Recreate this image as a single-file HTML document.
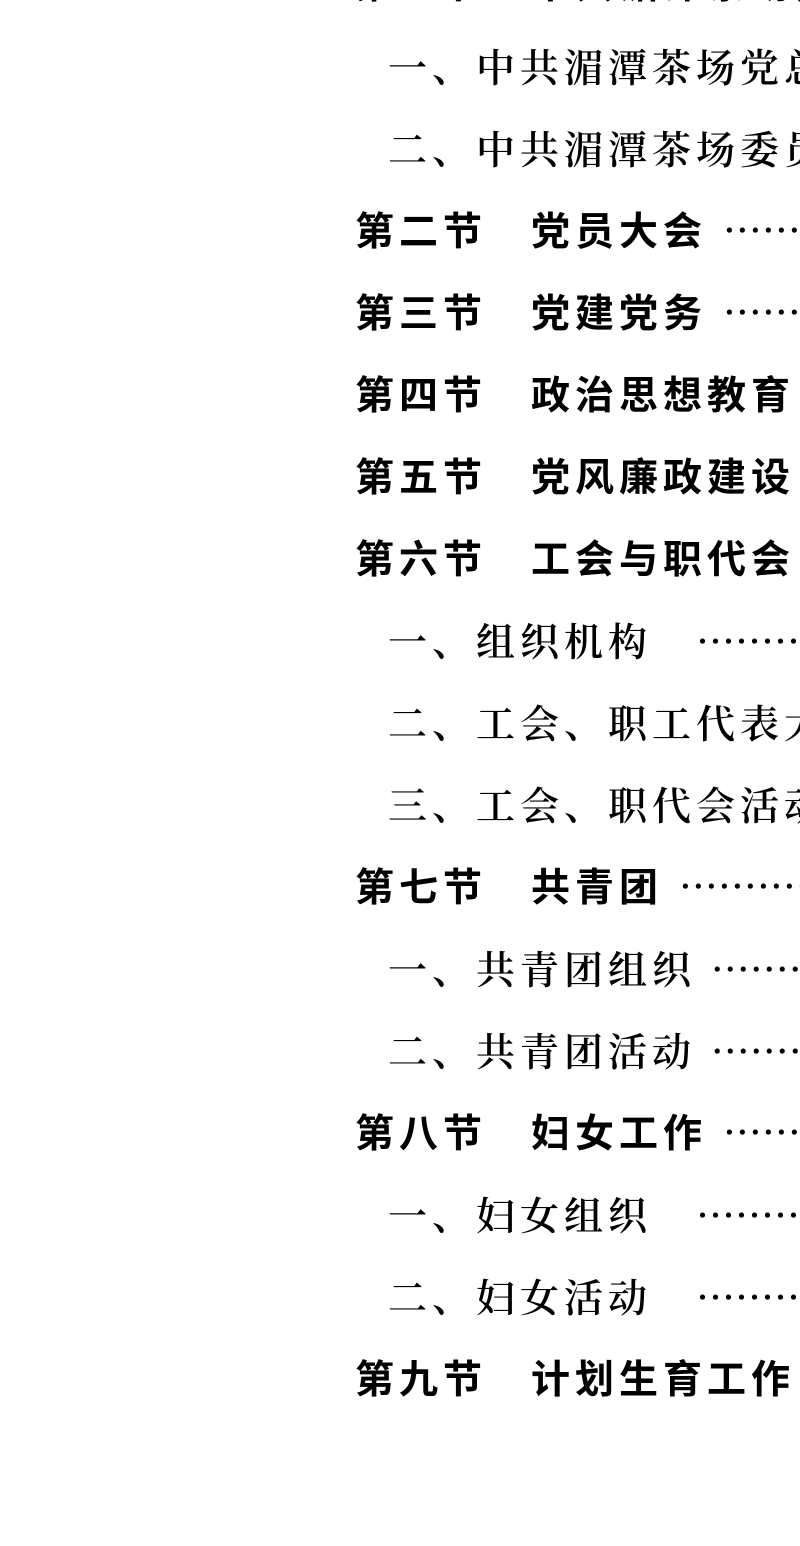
<!DOCTYPE html>
<html><head><meta charset="utf-8"><style>
html,body{margin:0;padding:0;background:#fff;overflow:hidden;}
body{width:800px;height:1546px;overflow:hidden;position:relative;}
.l{position:absolute;white-space:nowrap;line-height:44px;height:44px;font-size:39px;letter-spacing:5px;color:#000;overflow:hidden;right:0;}
.s{left:355px;font-family:"Liberation Sans","Noto Sans CJK SC",sans-serif;font-weight:700;}
.u{left:388px;font-family:"Liberation Serif","Noto Serif CJK SC",serif;font-weight:600;}
.d{letter-spacing:0;font-family:"Noto Sans CJK SC",sans-serif;font-weight:400;}
</style></head><body>
<div class="l s" style="top:-40px">第一节　中共湄潭茶场党组织 <span class="d">…………</span></div>
<div class="l u" style="top:44px">一、中共湄潭茶场党总支 <span class="d">…………</span></div>
<div class="l u" style="top:126px">二、中共湄潭茶场委员会 <span class="d">…………</span></div>
<div class="l s" style="top:207px">第二节　党员大会 <span class="d">……………………</span></div>
<div class="l s" style="top:289px">第三节　党建党务 <span class="d">……………………</span></div>
<div class="l s" style="top:371px">第四节　政治思想教育 <span class="d">…………</span></div>
<div class="l s" style="top:453px">第五节　党风廉政建设 <span class="d">…………</span></div>
<div class="l s" style="top:535px">第六节　工会与职代会 <span class="d">…………</span></div>
<div class="l u" style="top:618px">一、组织机构　<span class="d">……………………</span></div>
<div class="l u" style="top:700px">二、工会、职工代表大会 <span class="d">…………</span></div>
<div class="l u" style="top:782px">三、工会、职代会活动 <span class="d">…………</span></div>
<div class="l s" style="top:863px">第七节　共青团 <span class="d">……………………</span></div>
<div class="l u" style="top:946px">一、共青团组织 <span class="d">……………………</span></div>
<div class="l u" style="top:1028px">二、共青团活动 <span class="d">……………………</span></div>
<div class="l s" style="top:1109px">第八节　妇女工作 <span class="d">……………………</span></div>
<div class="l u" style="top:1192px">一、妇女组织　<span class="d">……………………</span></div>
<div class="l u" style="top:1274px">二、妇女活动　<span class="d">……………………</span></div>
<div class="l s" style="top:1355px">第九节　计划生育工作 <span class="d">…………</span></div>
</body></html>
